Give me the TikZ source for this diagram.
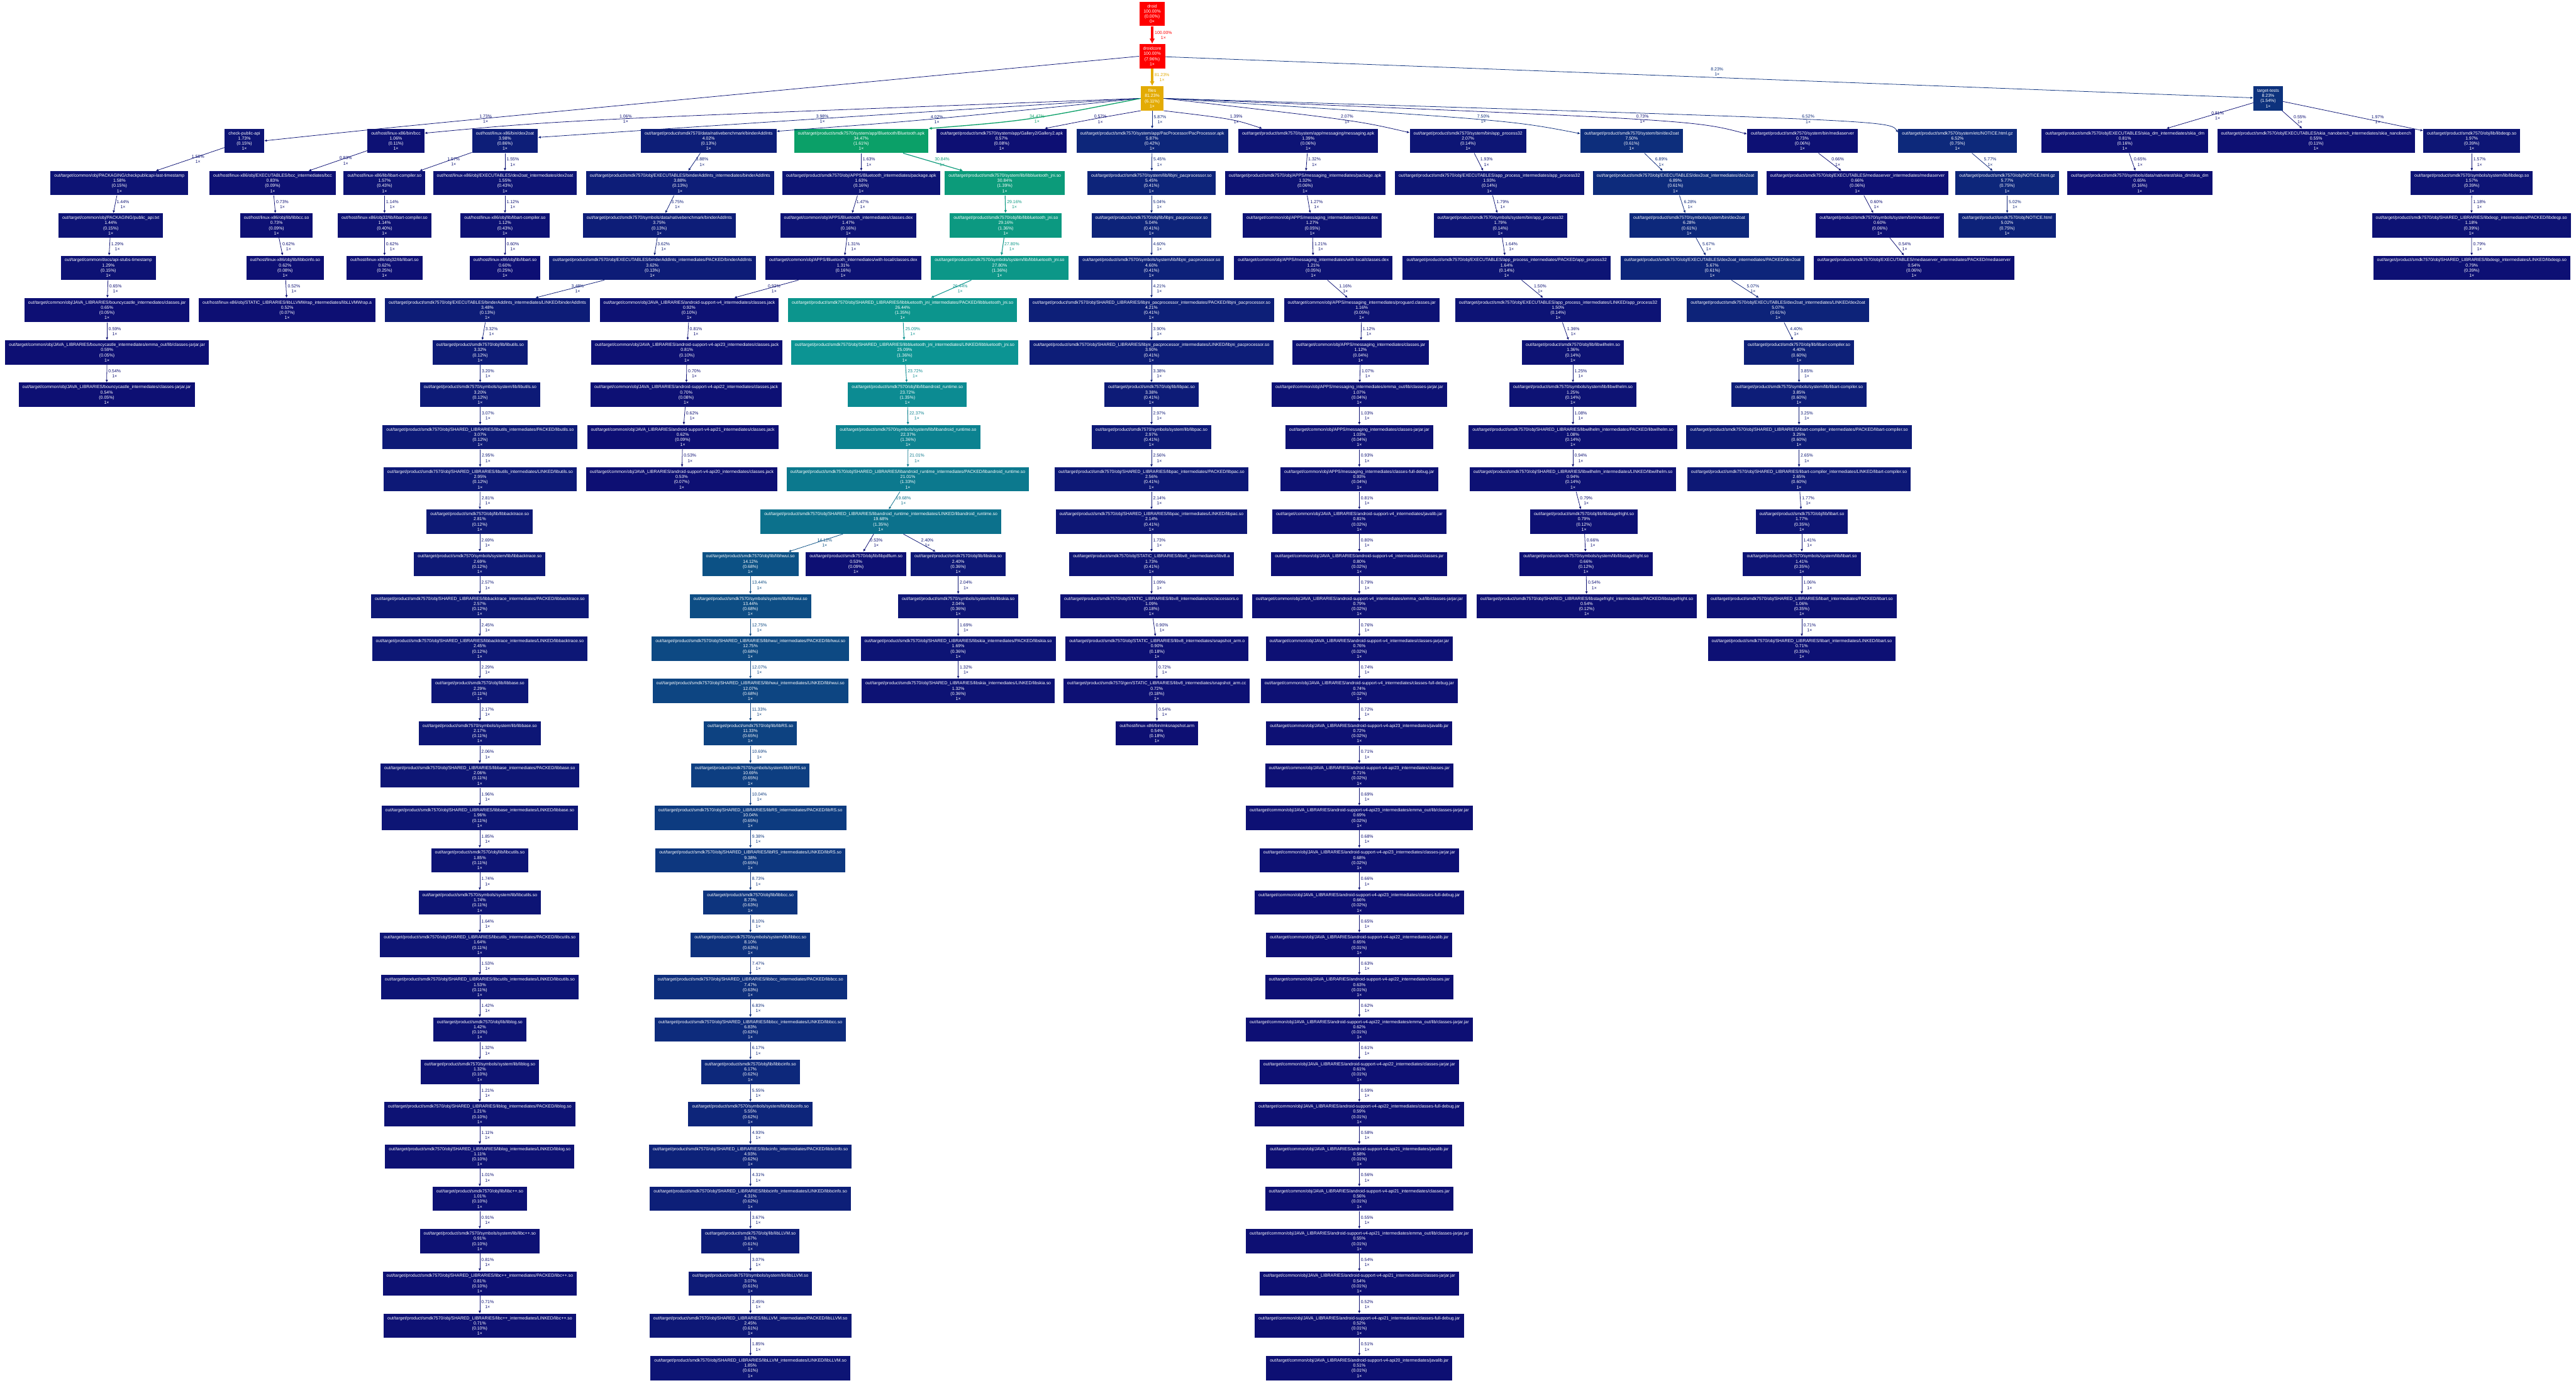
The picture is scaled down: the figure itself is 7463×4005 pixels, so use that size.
\documentclass[tikz,border=0pt]{standalone}
\usepackage{fontspec}
\setmainfont{Liberation Sans}
\usetikzlibrary{arrows.meta}
\newcommand\PTP{out/target/product/smdk7570}
\newcommand\PTC{out/target/common}
\newcommand\PHL{out/host/linux-x86}
\newcommand\SLIB{\PTP/obj/SHARED\_LIBRARIES}
\newcommand\JLIB{\PTC/obj/JAVA\_LIBRARIES}
\newcommand\jself{0.02}
% gprof2dot temperature colour map (HSL interpolation)
\newcommand\mkCol[2]{%
  \pgfmathsetmacro\gw{min(max((#1)/100,0),1)}%
  \pgfmathsetmacro\gh{240*(1-\gw)}%
  \pgfmathsetmacro\gs{0.8+0.2*\gw}%
  \pgfmathsetmacro\gl{0.25+0.25*\gw}%
  \pgfmathsetmacro\ga{\gs*min(\gl,1-\gl)}%
  \pgfmathsetmacro\gkr{mod(0+\gh/30,12)}%
  \pgfmathsetmacro\gkg{mod(8+\gh/30,12)}%
  \pgfmathsetmacro\gkb{mod(4+\gh/30,12)}%
  \pgfmathsetmacro\gcR{max(0,min(1,\gl-\ga*max(-1,min(\gkr-3,9-\gkr,1))))}%
  \pgfmathsetmacro\gcG{max(0,min(1,\gl-\ga*max(-1,min(\gkg-3,9-\gkg,1))))}%
  \pgfmathsetmacro\gcB{max(0,min(1,\gl-\ga*max(-1,min(\gkb-3,9-\gkb,1))))}%
  \definecolor{#2}{rgb}{\gcR,\gcG,\gcB}%
}
% node: name, x, row, text, total, self
\newcommand\mkN[6]{%
  \mkCol{#5}{c#1}%
  \node[gnode, fill=c#1] (#1) at (#2,{408+122.6*(#3-1)}) {#4\\#5\%\\(#6\%)\\1×};%
}
% node with explicit y: name, x, y, text, total, self, calls
\newcommand\mkNxy[7]{%
  \mkCol{#5}{c#1}%
  \node[gnode, fill=c#1] (#1) at (#2,#3) {#4\\#5\%\\(#6\%)\\#7×};%
}
% straight edge: [label opts], from, to, pct
\newcommand\mkE[4][]{%
  \mkCol{#4}{ecol}%
  \pgfmathsetmacro\elw{max((#4)*0.02,0.4)}%
  \pgfmathsetmacro\eal{1.6+1.4*\elw}%
  \pgfmathsetmacro\eaw{1.4+1.6*\elw}%
  \draw[draw=ecol, line width=\elw pt, -{Latex[length=\eal pt, width=\eaw pt]}] (#2) -- node[elabel, midway, text=ecol, #1] {#4\%\\1×} (#3);%
}
% curved edge: [label opts], from, control, to, pct
\newcommand\mkC[5][]{%
  \mkCol{#5}{ecol}%
  \pgfmathsetmacro\elw{max((#5)*0.02,0.4)}%
  \pgfmathsetmacro\eal{1.6+1.4*\elw}%
  \pgfmathsetmacro\eaw{1.4+1.6*\elw}%
  \draw[draw=ecol, line width=\elw pt, -{Latex[length=\eal pt, width=\eaw pt]}] (#2) .. controls (#3) .. (#4) node[elabel, pos=0.5, text=ecol, #1] {#5\%\\1×};%
}
% shared library quartet: prefix, x, first row, lib, t1..t4, self
\newcommand\mkLib[9]{%
  \mkN{#1A}{#2}{#3}{\PTP/obj/lib/#4.so}{#5}{#9}%
  \mkN{#1B}{#2}{#3+1}{\PTP/symbols/system/lib/#4.so}{#6}{#9}%
  \mkN{#1C}{#2}{#3+2}{\SLIB/#4\_intermediates/PACKED/#4.so}{#7}{#9}%
  \mkN{#1D}{#2}{#3+3}{\SLIB/#4\_intermediates/LINKED/#4.so}{#8}{#9}%
  \mkE{#1A}{#1B}{#6}\mkE{#1B}{#1C}{#7}\mkE{#1C}{#1D}{#8}%
}
% java library quintet: prefix, x, first row, lib, t1..t5 (self = \jself)
\newcommand\mkJar[9]{%
  \mkN{#1A}{#2}{#3}{\JLIB/#4\_intermediates/javalib.jar}{#5}{\jself}%
  \mkN{#1B}{#2}{#3+1}{\JLIB/#4\_intermediates/classes.jar}{#6}{\jself}%
  \mkN{#1C}{#2}{#3+2}{\JLIB/#4\_intermediates/emma\_out/lib/classes-jarjar.jar}{#7}{\jself}%
  \mkN{#1D}{#2}{#3+3}{\JLIB/#4\_intermediates/classes-jarjar.jar}{#8}{\jself}%
  \mkN{#1E}{#2}{#3+4}{\JLIB/#4\_intermediates/classes-full-debug.jar}{#9}{\jself}%
  \mkE{#1A}{#1B}{#6}\mkE{#1B}{#1C}{#7}\mkE{#1C}{#1D}{#8}\mkE{#1D}{#1E}{#9}%
}
\begin{document}
\begin{tikzpicture}[x=0.01cm,y=-0.01cm,
  gnode/.style={rectangle, inner xsep=0.11cm, inner ysep=0pt, minimum height=0.7cm,
    align=center, text=white, font=\fontsize{3.6}{4.27}\selectfont},
  elabel/.style={font=\fontsize{3.6}{4.27}\selectfont, align=center, anchor=west,
    inner sep=0pt, xshift=0.04cm}]
\fill[white] (0,0) rectangle (7463,4005);
\useasboundingbox (0,0) rectangle (7463,4005);

% ---------- top ----------
\mkNxy{droid}{3338}{40}{droid}{100.00}{0.00}{0}
\mkNxy{droidcore}{3338}{163}{droidcore}{100.00}{7.96}{1}
\mkNxy{files}{3338}{285}{files}{81.23}{6.11}{1}
\mkNxy{tt}{6571}{285}{target-tests}{8.23}{1.54}{1}

% ---------- row 1 ----------
\mkN{cpa}{708}{1}{check-public-api}{1.73}{0.15}
\mkN{hbcc}{1147}{1}{\PHL/bin/bcc}{1.06}{0.11}
\mkN{hdex}{1463}{1}{\PHL/bin/dex2oat}{3.98}{0.86}
\mkN{bai}{2053}{1}{\PTP/data/nativebenchmark/binderAddInts}{4.02}{0.13}
\mkN{bt}{2495}{1}{\PTP/system/app/Bluetooth/Bluetooth.apk}{34.47}{1.61}
\mkN{gal}{2902}{1}{\PTP/system/app/Gallery2/Gallery2.apk}{0.57}{0.08}
\mkN{pac}{3338}{1}{\PTP/system/app/PacProcessor/PacProcessor.apk}{5.87}{0.42}
\mkN{msg}{3790}{1}{\PTP/system/app/messaging/messaging.apk}{1.39}{0.06}
\mkN{ap}{4253}{1}{\PTP/system/bin/app\_process32}{2.07}{0.14}
\mkN{dex}{4727}{1}{\PTP/system/bin/dex2oat}{7.50}{0.61}
\mkN{ms}{5222}{1}{\PTP/system/bin/mediaserver}{0.73}{0.06}
\mkN{ntc}{5671}{1}{\PTP/system/etc/NOTICE.html.gz}{6.52}{0.75}
\mkN{sdm}{6156}{1}{\PTP/obj/EXECUTABLES/skia\_dm\_intermediates/skia\_dm}{0.81}{0.16}
\mkN{snb}{6710}{1}{\PTP/obj/EXECUTABLES/skia\_nanobench\_intermediates/skia\_nanobench}{0.55}{0.11}
\mkN{dqp}{7161}{1}{\PTP/obj/lib/libdeqp.so}{1.97}{0.39}

% ---------- check-public-api ----------
\mkN{cpa2}{346}{2}{\PTC/obj/PACKAGING/checkpublicapi-last-timestamp}{1.58}{0.15}
\mkN{cpa3}{321}{3}{\PTC/obj/PACKAGING/public\_api.txt}{1.44}{0.15}
\mkN{cpa4}{314}{4}{\PTC/docs/api-stubs-timestamp}{1.29}{0.15}
\mkN{cpa5}{310}{5}{\JLIB/bouncycastle\_intermediates/classes.jar}{0.65}{0.05}
\mkN{cpa6}{310}{6}{\JLIB/bouncycastle\_intermediates/emma\_out/lib/classes-jarjar.jar}{0.59}{0.05}
\mkN{cpa7}{309}{7}{\JLIB/bouncycastle\_intermediates/classes-jarjar.jar}{0.54}{0.05}

% ---------- host bcc / dex2oat ----------
\mkN{hbcc2}{790}{2}{\PHL/obj/EXECUTABLES/bcc\_intermediates/bcc}{0.83}{0.09}
\mkN{hbcc3}{801}{3}{\PHL/obj/lib/libbcc.so}{0.73}{0.09}
\mkN{hbcc4}{826}{4}{\PHL/obj/lib/libbcinfo.so}{0.62}{0.08}
\mkN{hbcc5}{832}{5}{\PHL/obj/STATIC\_LIBRARIES/libLLVMWrap\_intermediates/libLLVMWrap.a}{0.52}{0.07}
\mkN{hac2}{1114}{2}{\PHL/lib/libart-compiler.so}{1.57}{0.43}
\mkN{hac3}{1114}{3}{\PHL/obj32/lib/libart-compiler.so}{1.14}{0.40}
\mkN{hac4}{1114}{4}{\PHL/obj32/lib/libart.so}{0.62}{0.25}
\mkN{hdi2}{1463}{2}{\PHL/obj/EXECUTABLES/dex2oat\_intermediates/dex2oat}{1.55}{0.43}
\mkN{hdi3}{1463}{3}{\PHL/obj/lib/libart-compiler.so}{1.12}{0.43}
\mkN{hdi4}{1463}{4}{\PHL/obj/lib/libart.so}{0.60}{0.25}

% ---------- binderAddInts ----------
\mkN{bai2}{1970}{2}{\PTP/obj/EXECUTABLES/binderAddInts\_intermediates/binderAddInts}{3.88}{0.13}
\mkN{bai3}{1910}{3}{\PTP/symbols/data/nativebenchmark/binderAddInts}{3.75}{0.13}
\mkN{bai4}{1890}{4}{\PTP/obj/EXECUTABLES/binderAddInts\_intermediates/PACKED/binderAddInts}{3.62}{0.13}
\mkN{bai5}{1412}{5}{\PTP/obj/EXECUTABLES/binderAddInts\_intermediates/LINKED/binderAddInts}{3.48}{0.13}
\mkLib{LU}{1391}{6}{libutils}{3.32}{3.20}{3.07}{2.95}{0.12}
\mkLib{LBT}{1390}{10}{libbacktrace}{2.81}{2.69}{2.57}{2.45}{0.12}
\mkLib{LBS}{1390}{14}{libbase}{2.29}{2.17}{2.06}{1.96}{0.11}
\mkLib{LCU}{1390}{18}{libcutils}{1.85}{1.74}{1.64}{1.53}{0.11}
\mkLib{LLG}{1390}{22}{liblog}{1.42}{1.32}{1.21}{1.11}{0.10}
\mkLib{LCX}{1390}{26}{libc++}{1.01}{0.91}{0.81}{0.71}{0.10}

% ---------- Bluetooth ----------
\mkN{btp2}{2495}{2}{\PTP/obj/APPS/Bluetooth\_intermediates/package.apk}{1.63}{0.16}
\mkN{btp3}{2458}{3}{\PTC/obj/APPS/Bluetooth\_intermediates/classes.dex}{1.47}{0.16}
\mkN{btp4}{2443}{4}{\PTC/obj/APPS/Bluetooth\_intermediates/with-local/classes.dex}{1.31}{0.16}
\mkN{sv5}{1997}{5}{\JLIB/android-support-v4\_intermediates/classes.jack}{0.92}{0.10}
\mkN{sv6}{1990}{6}{\JLIB/android-support-v4-api23\_intermediates/classes.jack}{0.81}{0.10}
\mkN{sv7}{1988}{7}{\JLIB/android-support-v4-api22\_intermediates/classes.jack}{0.70}{0.08}
\mkN{sv8}{1978}{8}{\JLIB/android-support-v4-api21\_intermediates/classes.jack}{0.62}{0.09}
\mkN{sv9}{1975}{9}{\JLIB/android-support-v4-api20\_intermediates/classes.jack}{0.53}{0.07}
\mkN{bj2}{2911}{2}{\PTP/system/lib/libbluetooth\_jni.so}{30.84}{1.39}
\mkN{bj3}{2914}{3}{\PTP/obj/lib/libbluetooth\_jni.so}{29.16}{1.36}
\mkN{bj4}{2896}{4}{\PTP/symbols/system/lib/libbluetooth\_jni.so}{27.80}{1.36}
\mkN{bj5}{2615}{5}{\SLIB/libbluetooth\_jni\_intermediates/PACKED/libbluetooth\_jni.so}{26.44}{1.35}
\mkN{bj6}{2621}{6}{\SLIB/libbluetooth\_jni\_intermediates/LINKED/libbluetooth\_jni.so}{25.09}{1.36}
\mkN{ar7}{2629}{7}{\PTP/obj/lib/libandroid\_runtime.so}{23.72}{1.35}
\mkN{ar8}{2631}{8}{\PTP/symbols/system/lib/libandroid\_runtime.so}{22.37}{1.36}
\mkN{ar9}{2630}{9}{\SLIB/libandroid\_runtime\_intermediates/PACKED/libandroid\_runtime.so}{21.01}{1.33}
\mkN{ar10}{2552}{10}{\SLIB/libandroid\_runtime\_intermediates/LINKED/libandroid\_runtime.so}{19.68}{1.35}
\mkN{pdf}{2480}{11}{\PTP/obj/lib/libpdfium.so}{0.53}{0.09}
\mkLib{LSK}{2776}{11}{libskia}{2.40}{2.04}{1.69}{1.32}{0.36}
\mkLib{LHW}{2174}{11}{libhwui}{14.12}{13.44}{12.75}{12.07}{0.68}
\mkLib{LRS}{2174}{15}{libRS}{11.33}{10.69}{10.04}{9.38}{0.65}
\mkLib{LBC}{2174}{19}{libbcc}{8.73}{8.10}{7.47}{6.83}{0.63}
\mkLib{LBI}{2174}{23}{libbcinfo}{6.17}{5.55}{4.93}{4.31}{0.62}
\mkLib{LLV}{2174}{27}{libLLVM}{3.67}{3.07}{2.45}{1.85}{0.61}

% ---------- PacProcessor ----------
\mkN{pc2}{3336}{2}{\PTP/system/lib/libjni\_pacprocessor.so}{5.45}{0.41}
\mkLib{LPJ}{3336}{3}{libjni\_pacprocessor}{5.04}{4.60}{4.21}{3.90}{0.41}
\mkLib{LPP}{3336}{7}{libpac}{3.38}{2.97}{2.56}{2.14}{0.41}
\mkN{v11}{3336}{11}{\PTP/obj/STATIC\_LIBRARIES/libv8\_intermediates/libv8.a}{1.73}{0.41}
\mkN{v12}{3336}{12}{\PTP/obj/STATIC\_LIBRARIES/libv8\_intermediates/src/accessors.o}{1.09}{0.18}
\mkN{v13}{3352}{13}{\PTP/obj/STATIC\_LIBRARIES/libv8\_intermediates/snapshot\_arm.o}{0.90}{0.18}
\mkN{v14}{3351}{14}{\PTP/gen/STATIC\_LIBRARIES/libv8\_intermediates/snapshot\_arm.cc}{0.72}{0.18}
\mkN{v15}{3352}{15}{\PHL/bin/mksnapshot.arm}{0.54}{0.18}

% ---------- messaging ----------
\mkN{m2}{3781}{2}{\PTP/obj/APPS/messaging\_intermediates/package.apk}{1.32}{0.06}
\mkN{m3}{3802}{3}{\PTC/obj/APPS/messaging\_intermediates/classes.dex}{1.27}{0.05}
\mkN{m4}{3805}{4}{\PTC/obj/APPS/messaging\_intermediates/with-local/classes.dex}{1.21}{0.05}
\mkN{m5}{3945}{5}{\PTC/obj/APPS/messaging\_intermediates/proguard.classes.jar}{1.16}{0.05}
\mkN{m6}{3942}{6}{\PTC/obj/APPS/messaging\_intermediates/classes.jar}{1.12}{0.04}
\mkN{m7}{3938}{7}{\PTC/obj/APPS/messaging\_intermediates/emma\_out/lib/classes-jarjar.jar}{1.07}{0.04}
\mkN{m8}{3938}{8}{\PTC/obj/APPS/messaging\_intermediates/classes-jarjar.jar}{1.03}{0.04}
\mkN{m9}{3938}{9}{\PTC/obj/APPS/messaging\_intermediates/classes-full-debug.jar}{0.93}{0.04}
\renewcommand\jself{0.02}
\mkJar{JSA}{3938}{10}{android-support-v4}{0.81}{0.80}{0.79}{0.76}{0.74}
\mkJar{JSB}{3938}{15}{android-support-v4-api23}{0.72}{0.71}{0.69}{0.68}{0.66}
\renewcommand\jself{0.01}
\mkJar{JSC}{3938}{20}{android-support-v4-api22}{0.65}{0.63}{0.62}{0.61}{0.59}
\mkJar{JSD}{3938}{25}{android-support-v4-api21}{0.58}{0.56}{0.55}{0.54}{0.52}
\mkN{s30}{3938}{30}{\JLIB/android-support-v4-api20\_intermediates/javalib.jar}{0.51}{0.01}

% ---------- app_process32 ----------
\mkN{a2}{4315}{2}{\PTP/obj/EXECUTABLES/app\_process\_intermediates/app\_process32}{1.93}{0.14}
\mkN{a3}{4347}{3}{\PTP/symbols/system/bin/app\_process32}{1.79}{0.14}
\mkN{a4}{4365}{4}{\PTP/obj/EXECUTABLES/app\_process\_intermediates/PACKED/app\_process32}{1.64}{0.14}
\mkN{a5}{4514}{5}{\PTP/obj/EXECUTABLES/app\_process\_intermediates/LINKED/app\_process32}{1.50}{0.14}
\mkLib{LWL}{4557}{6}{libwilhelm}{1.36}{1.25}{1.08}{0.94}{0.14}
\mkN{sf10}{4589}{10}{\PTP/obj/lib/libstagefright.so}{0.79}{0.12}
\mkN{sf11}{4595}{11}{\PTP/symbols/system/lib/libstagefright.so}{0.66}{0.12}
\mkN{sf12}{4597}{12}{\SLIB/libstagefright\_intermediates/PACKED/libstagefright.so}{0.54}{0.12}

% ---------- dex2oat ----------
\mkN{d2}{4854}{2}{\PTP/obj/EXECUTABLES/dex2oat\_intermediates/dex2oat}{6.89}{0.61}
\mkN{d3}{4894}{3}{\PTP/symbols/system/bin/dex2oat}{6.28}{0.61}
\mkN{d4}{4961}{4}{\PTP/obj/EXECUTABLES/dex2oat\_intermediates/PACKED/dex2oat}{5.67}{0.61}
\mkN{d5}{5151}{5}{\PTP/obj/EXECUTABLES/dex2oat\_intermediates/LINKED/dex2oat}{5.07}{0.61}
\mkLib{LAC}{5212}{6}{libart-compiler}{4.40}{3.85}{3.25}{2.65}{0.60}
\mkLib{LAT}{5220}{10}{libart}{1.77}{1.41}{1.06}{0.71}{0.35}

% ---------- mediaserver / NOTICE / tests ----------
\mkN{ms2}{5381}{2}{\PTP/obj/EXECUTABLES/mediaserver\_intermediates/mediaserver}{0.66}{0.06}
\mkN{ms3}{5446}{3}{\PTP/symbols/system/bin/mediaserver}{0.60}{0.06}
\mkN{ms4}{5545}{4}{\PTP/obj/EXECUTABLES/mediaserver\_intermediates/PACKED/mediaserver}{0.54}{0.06}
\mkN{n2}{5815}{2}{\PTP/obj/NOTICE.html.gz}{5.77}{0.75}
\mkN{n3}{5815}{3}{\PTP/obj/NOTICE.html}{5.02}{0.75}
\mkN{sd2}{6199}{2}{\PTP/symbols/data/nativetest/skia\_dm/skia\_dm}{0.65}{0.16}
\mkN{dq2}{7161}{2}{\PTP/symbols/system/lib/libdeqp.so}{1.57}{0.39}
\mkN{dq3}{7160}{3}{\SLIB/libdeqp\_intermediates/PACKED/libdeqp.so}{1.18}{0.39}
\mkN{dq4}{7161}{4}{\SLIB/libdeqp\_intermediates/LINKED/libdeqp.so}{0.79}{0.39}

% ================= edges =================
\mkE{droid}{droidcore}{100.00}
\mkE{droidcore}{files}{81.23}
\mkC{droidcore.west}{1168,365}{cpa.east}{1.73}
\mkE[anchor=south west, xshift=0cm, yshift=0.03cm]{droidcore}{tt}{8.23}
\mkC{files.west}{1631,348}{hbcc.15}{1.06}
\mkC{files.west}{2336,346}{hdex.6}{3.98}
\mkC{files.west}{2663,350}{bai.8}{4.02}
\mkC{files.west}{2971,350}{bt.north east}{34.47}
\mkC{files.south west}{3165,345}{gal.16}{0.57}
\mkE{files}{pac}{5.87}
\mkC{files.south east}{3574,345}{msg.165}{1.39}
\mkC{files.east}{3931,349}{ap.172}{2.07}
\mkC{files.east}{4375,348}{dex.172}{7.50}
\mkC{files.east}{4909,348}{ms.173}{0.73}
\mkC{files.east}{5476,349}{ntc.172}{6.52}
\mkE{tt}{sdm}{0.81}
\mkE{tt}{snb}{0.55}
\mkE[pos=0.62]{tt}{dqp}{1.97}

\mkE{cpa}{cpa2}{1.58}\mkE{cpa2}{cpa3}{1.44}\mkE{cpa3}{cpa4}{1.29}
\mkE{cpa4}{cpa5}{0.65}\mkE{cpa5}{cpa6}{0.59}\mkE{cpa6}{cpa7}{0.54}
\mkE{hbcc}{hbcc2}{0.83}\mkE{hbcc2}{hbcc3}{0.73}\mkE{hbcc3}{hbcc4}{0.62}\mkE{hbcc4}{hbcc5}{0.52}
\mkE{hdex}{hac2}{1.57}\mkE{hac2}{hac3}{1.14}\mkE{hac3}{hac4}{0.62}
\mkE{hdex}{hdi2}{1.55}\mkE{hdi2}{hdi3}{1.12}\mkE{hdi3}{hdi4}{0.60}

\mkE{bai}{bai2}{3.88}\mkE{bai2}{bai3}{3.75}\mkE{bai3}{bai4}{3.62}\mkE{bai4}{bai5}{3.48}
\mkE{bai5}{LUA}{3.32}\mkE{LUD}{LBTA}{2.81}\mkE{LBTD}{LBSA}{2.29}
\mkE{LBSD}{LCUA}{1.85}\mkE{LCUD}{LLGA}{1.42}\mkE{LLGD}{LCXA}{1.01}

\mkE{bt}{btp2}{1.63}\mkE{btp2}{btp3}{1.47}\mkE{btp3}{btp4}{1.31}\mkE{btp4}{sv5}{0.92}
\mkE{sv5}{sv6}{0.81}\mkE{sv6}{sv7}{0.70}\mkE{sv7}{sv8}{0.62}\mkE{sv8}{sv9}{0.53}
\mkE{bt}{bj2}{30.84}\mkE{bj2}{bj3}{29.16}\mkE{bj3}{bj4}{27.80}\mkE{bj4}{bj5}{26.44}
\mkE{bj5}{bj6}{25.09}\mkE{bj6}{ar7}{23.72}\mkE{ar7}{ar8}{22.37}\mkE{ar8}{ar9}{21.01}
\mkE{ar9}{ar10}{19.68}
\mkE{ar10}{LHWA}{14.12}\mkE{ar10}{pdf}{0.53}\mkE{ar10}{LSKA}{2.40}
\mkE{LHWD}{LRSA}{11.33}\mkE{LRSD}{LBCA}{8.73}\mkE{LBCD}{LBIA}{6.17}\mkE{LBID}{LLVA}{3.67}

\mkE{pac}{pc2}{5.45}\mkE{pc2}{LPJA}{5.04}\mkE{LPJD}{LPPA}{3.38}\mkE{LPPD}{v11}{1.73}
\mkE{v11}{v12}{1.09}\mkE{v12}{v13}{0.90}\mkE{v13}{v14}{0.72}\mkE{v14}{v15}{0.54}

\mkE{msg}{m2}{1.32}\mkE{m2}{m3}{1.27}\mkE{m3}{m4}{1.21}\mkE{m4}{m5}{1.16}
\mkE{m5}{m6}{1.12}\mkE{m6}{m7}{1.07}\mkE{m7}{m8}{1.03}\mkE{m8}{m9}{0.93}
\mkE{m9}{JSAA}{0.81}\mkE{JSAE}{JSBA}{0.72}\mkE{JSBE}{JSCA}{0.65}\mkE{JSCE}{JSDA}{0.58}\mkE{JSDE}{s30}{0.51}

\mkE{ap}{a2}{1.93}\mkE{a2}{a3}{1.79}\mkE{a3}{a4}{1.64}\mkE{a4}{a5}{1.50}
\mkE{a5}{LWLA}{1.36}\mkE{LWLD}{sf10}{0.79}\mkE{sf10}{sf11}{0.66}\mkE{sf11}{sf12}{0.54}

\mkE{dex}{d2}{6.89}\mkE{d2}{d3}{6.28}\mkE{d3}{d4}{5.67}\mkE{d4}{d5}{5.07}
\mkE{d5}{LACA}{4.40}\mkE{LACD}{LATA}{1.77}

\mkE{ms}{ms2}{0.66}\mkE{ms2}{ms3}{0.60}\mkE{ms3}{ms4}{0.54}
\mkE{ntc}{n2}{5.77}\mkE{n2}{n3}{5.02}
\mkE{sdm}{sd2}{0.65}
\mkE{dqp}{dq2}{1.57}\mkE{dq2}{dq3}{1.18}\mkE{dq3}{dq4}{0.79}
\end{tikzpicture}
\end{document}
